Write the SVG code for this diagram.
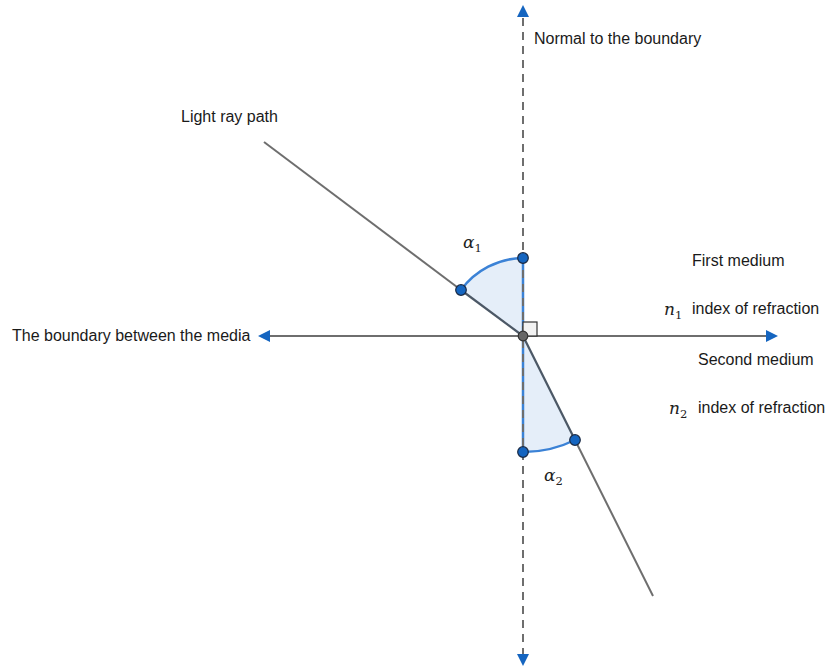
<svg xmlns="http://www.w3.org/2000/svg" width="828" height="667" viewBox="0 0 828 667">
<style>
.t{font-family:"Liberation Sans",Arial,sans-serif;font-size:16px;fill:#1a1a1a}
.m{font-family:"DejaVu Serif","Liberation Serif",serif;font-style:italic;font-size:17px;fill:#222}
.s{font-size:11.5px;font-style:normal}
.ax{stroke:#6e6e6e;stroke-width:2;fill:none}
.ar{fill:#1565c0}
.pt{fill:#1565c0;stroke:#1a2a44;stroke-width:1.2}
</style>
<rect width="828" height="667" fill="#fff"/>
<g id="sectors">
<path d="M523,336 L461,290 A78,78 0 0 1 523,258 Z" fill="#e5eef9"/>
<path d="M523,336 L575,440 A116,116 0 0 1 523,452 Z" fill="#e5eef9"/>
<path d="M461,290 A78,78 0 0 1 523,258" fill="none" stroke="#3b82d6" stroke-width="2.5"/>
<path d="M575,440 A116,116 0 0 1 523,452" fill="none" stroke="#3b82d6" stroke-width="2.5"/>
<line x1="523" y1="258" x2="523" y2="336" stroke="#3b82d6" stroke-width="2.5"/>
<line x1="523" y1="336" x2="523" y2="452" stroke="#3b82d6" stroke-width="2.5"/>
</g>
<g id="connectors">
<line class="ax" x1="270" y1="336" x2="767" y2="336"/>
<polygon class="ar" points="258,336 270,330 270,342"/>
<polygon class="ar" points="778,336 766,330 766,342"/>
<line class="ax" x1="523" y1="18" x2="523" y2="655" stroke-dasharray="8,6"/>
<polygon class="ar" points="523,5 517,17 529,17"/>
<polygon class="ar" points="523,666 517,654 529,654"/>
<line class="ax" x1="264" y1="142" x2="461" y2="290"/>
<line x1="461" y1="290" x2="523" y2="336" stroke="#4c5866" stroke-width="2.2"/>
<line x1="523" y1="336" x2="575" y2="440" stroke="#4c5866" stroke-width="2.2"/>
<line class="ax" x1="575" y1="440" x2="653" y2="596"/>
<rect x="523" y="322" width="14" height="14" fill="#f2f2f2" stroke="#333" stroke-width="1.2"/>
</g>
<g id="points">
<circle class="pt" cx="461" cy="290" r="5.3"/>
<circle class="pt" cx="523" cy="258" r="5.3"/>
<circle class="pt" cx="575" cy="440" r="5.3"/>
<circle class="pt" cx="523" cy="452" r="5.3"/>
<circle cx="523" cy="336" r="4.8" fill="#666" stroke="#333" stroke-width="1.2"/>
</g>
<g id="labels">
<text class="t" x="534" y="44">Normal to the boundary</text>
<text class="t" x="181" y="122">Light ray path</text>
<text class="t" x="12" y="341">The boundary between the media</text>
<text class="t" x="692" y="266">First medium</text>
<text class="t" x="692" y="314">index of refraction</text>
<text class="t" x="698" y="365">Second medium</text>
<text class="t" x="698" y="413">index of refraction</text>
<text class="m" x="463" y="248">α<tspan class="s" dy="4">1</tspan></text>
<text class="m" x="544" y="481">α<tspan class="s" dy="4">2</tspan></text>
<text class="m" x="664" y="315">n<tspan class="s" dy="4">1</tspan></text>
<text class="m" x="669" y="414">n<tspan class="s" dy="4">2</tspan></text>
</g>
</svg>
